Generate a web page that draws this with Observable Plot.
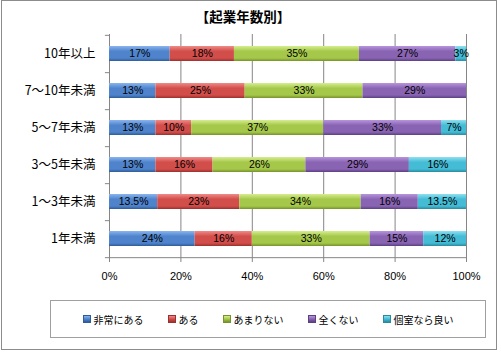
<!DOCTYPE html>
<html><head><meta charset="utf-8">
<script src="https://cdn.jsdelivr.net/npm/d3@7"></script>
<script src="https://cdn.jsdelivr.net/npm/@observablehq/plot@0.6"></script>
<style>
body{margin:0;background:#fff;}
#wrap{position:relative;width:501px;height:353px;overflow:hidden;font-family:"Noto Sans CJK JP",sans-serif;}
#border{position:absolute;left:1px;top:0px;width:496px;height:350px;border:1px solid #8c8c8c;box-sizing:border-box;}
#title{position:absolute;left:0;width:486px;top:7px;text-align:center;font-weight:bold;font-size:13.5px;line-height:18px;color:#000;}
#legend{position:absolute;left:50px;top:300px;width:436px;height:38px;border:1px solid #a0a0a0;box-sizing:border-box;display:flex;align-items:center;justify-content:center;gap:24px;font-size:10px;}
.item{display:flex;align-items:center;gap:3px;}
.sw{width:6px;height:6px;}
#chart{position:absolute;left:0;top:0;}
</style></head>
<body>
<svg width="0" height="0" style="position:absolute">
<defs id="defs"></defs>
</svg>
<div id="wrap">
<div id="chart"></div>
<div id="border"></div>
<div id="title">【起業年数別】</div>
<div id="legend"></div>
</div>
<script>
const categories = ["10年以上","7〜10年未満","5〜7年未満","3〜5年未満","1〜3年未満","1年未満"];
const seriesNames = ["非常にある","ある","あまりない","全くない","個室なら良い"];
const hijouNiAru = [17,13,13,13,13.5,24];
const aru = [18,25,10,16,23,16];
const amariNai = [35,33,37,26,34,33];
const mattakuNai = [27,29,33,29,16,15];
const koshitsuNaraYoi = [3,0,7,16,13.5,12];
const xTicks = [0,20,40,60,80,100];

// gradient stops: top highlight, body, bottom shade
const palette = [
  ["#8ab4ee","#4f84cc","#2f5c98"],
  ["#f08a88","#d24e4b","#9c302e"],
  ["#d6ee90","#a5c84a","#76922c"],
  ["#b795dd","#8964b3","#5c4082"],
  ["#8ee0f0","#44bcd6","#2a8aa0"]
];
const defs = document.getElementById("defs");
palette.forEach((c,i)=>{
  const ns="http://www.w3.org/2000/svg";
  const g=document.createElementNS(ns,"linearGradient");
  g.setAttribute("id","g"+i);g.setAttribute("x1","0");g.setAttribute("y1","0");g.setAttribute("x2","0");g.setAttribute("y2","1");
  [[0,c[0]],[0.35,c[1]],[0.8,c[1]],[1,c[2]]].forEach(([o,col])=>{
    const s=document.createElementNS(ns,"stop");s.setAttribute("offset",o);s.setAttribute("stop-color",col);g.appendChild(s);
  });
  defs.appendChild(g);
});

const seriesArrays = [hijouNiAru, aru, amariNai, mattakuNai, koshitsuNaraYoi];
const data = [];
categories.forEach((cat,ci)=>{
  seriesNames.forEach((s,si)=>{
    const v = seriesArrays[si][ci];
    if (v > 0) data.push({cat, series:s, value:v});
  });
});

const step = (258-34)/categories.length;
const chart = Plot.plot({
  width:501, height:353,
  marginTop:34, marginBottom:95, marginLeft:109, marginRight:35,
  style:{fontFamily:"'Liberation Sans',sans-serif", background:"transparent"},
  x:{domain:[0,100], label:null},
  y:{domain:categories, paddingInner:0.6, paddingOuter:0.3, label:null},
  color:{domain:seriesNames, range:seriesNames.map((_,i)=>`url(#g${i})`)},
  marks:[
    Plot.ruleX(xTicks.slice(1), {stroke:"#868686", strokeWidth:1}),
    Plot.ruleX([0], {stroke:"#868686"}),
    Plot.ruleY([categories[categories.length-1]], {x1:0, x2:100, dy:step/2, stroke:"#868686"}),
    Plot.ruleY(categories, {x1:-1.15, x2:0, dy:step/2, stroke:"#868686"}),
    Plot.ruleY([categories[0]], {x1:-1.15, x2:0, dy:-step/2, stroke:"#868686"}),
    Plot.axisX({ticks:xTicks, tickFormat:d=>d+"%", tickSize:4, tickPadding:10, fontSize:11, stroke:"#868686", color:"#000", label:null}),
    Plot.axisY({tickSize:0, tickPadding:14, fontSize:12.5, fontFamily:"'Noto Sans CJK JP',sans-serif", color:"#000", label:null}),
    Plot.barX(data, Plot.stackX({x:"value", y:"cat", fill:"series", order:seriesNames})),
    Plot.text(data, Plot.stackX({x:"value", y:"cat", z:"series", order:seriesNames, text:d=>d.value+"%", fontSize:10.5, fill:"#000"}))
  ]
});
document.getElementById("chart").appendChild(chart);

const legend = document.getElementById("legend");
seriesNames.forEach((s,i)=>{
  const it=document.createElement("div");it.className="item";
  const sw=document.createElement("div");sw.className="sw";
  sw.style.background=`linear-gradient(${palette[i][0]},${palette[i][1]},${palette[i][2]})`;
  sw.style.border=`1px solid ${palette[i][2]}`;
  const t=document.createElement("span");t.textContent=s;
  it.appendChild(sw);it.appendChild(t);legend.appendChild(it);
});
</script>
</body></html>
